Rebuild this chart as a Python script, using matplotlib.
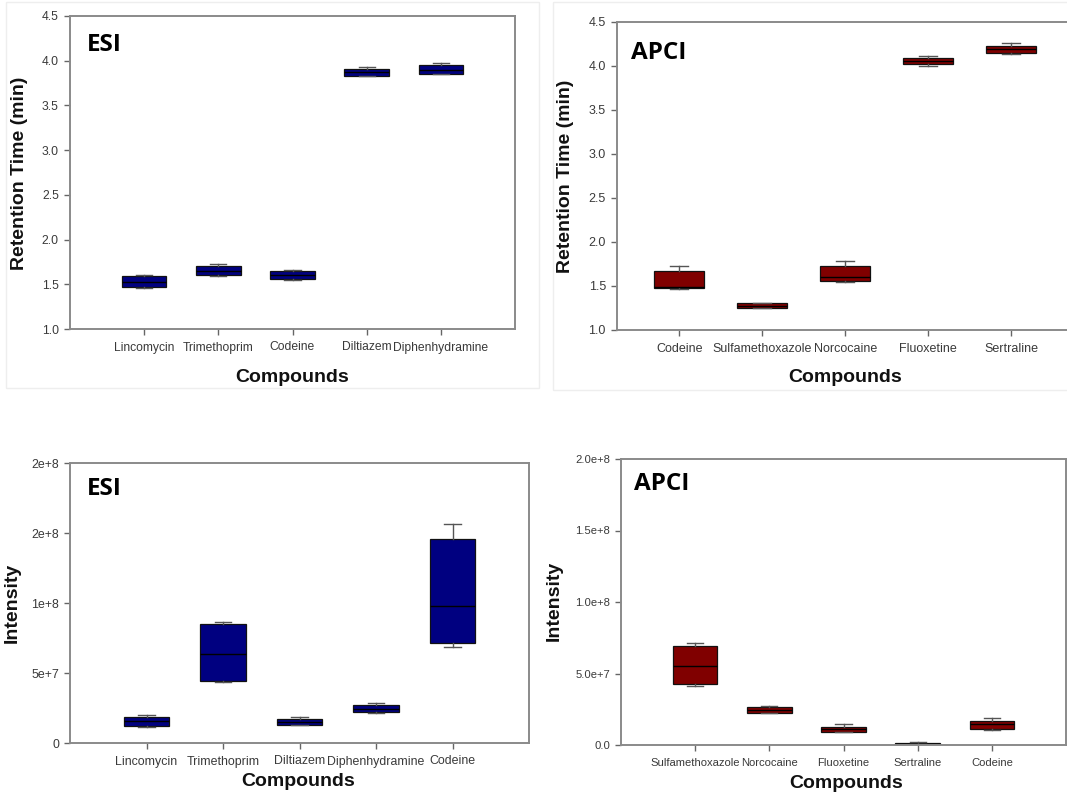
import matplotlib
matplotlib.use("Agg")
import matplotlib.pyplot as plt
from matplotlib.patches import Rectangle

W, H = 1067, 794

# ---------------- data ----------------
esi_rt_compounds = ["Lincomycin", "Trimethoprim", "Codeine", "Diltiazem", "Diphenhydramine"]
esi_rt_whislo = [1.457, 1.590, 1.550, 3.824, 3.847]
esi_rt_q1 = [1.468, 1.602, 1.557, 3.832, 3.854]
esi_rt_med = [1.520, 1.650, 1.600, 3.870, 3.900]
esi_rt_q3 = [1.594, 1.706, 1.647, 3.906, 3.954]
esi_rt_whishi = [1.600, 1.725, 1.661, 3.935, 3.980]

apci_rt_compounds = ["Codeine", "Sulfamethoxazole", "Norcocaine", "Fluoxetine", "Sertraline"]
apci_rt_whislo = [1.466, 1.245, 1.550, 4.003, 4.133]
apci_rt_q1 = [1.474, 1.245, 1.557, 4.019, 4.144]
apci_rt_med = [1.490, 1.270, 1.600, 4.060, 4.190]
apci_rt_q3 = [1.674, 1.303, 1.730, 4.090, 4.230]
apci_rt_whishi = [1.730, 1.303, 1.784, 4.117, 4.258]

esi_int_compounds = ["Lincomycin", "Trimethoprim", "Diltiazem", "Diphenhydramine", "Codeine"]
esi_int_whislo = [1.12e7, 4.38e7, 1.26e7, 2.15e7, 6.86e7]
esi_int_q1 = [1.21e7, 4.45e7, 1.29e7, 2.19e7, 7.17e7]
esi_int_med = [1.55e7, 6.33e7, 1.50e7, 2.45e7, 9.76e7]
esi_int_q3 = [1.88e7, 8.50e7, 1.71e7, 2.71e7, 1.457e8]
esi_int_whishi = [2.00e7, 8.67e7, 1.88e7, 2.83e7, 1.564e8]

apci_int_compounds = ["Sulfamethoxazole", "Norcocaine", "Fluoxetine", "Sertraline", "Codeine"]
apci_int_whislo = [4.15e7, 2.22e7, 0.88e7, 0.05e7, 1.08e7]
apci_int_q1 = [4.27e7, 2.24e7, 0.91e7, 0.07e7, 1.10e7]
apci_int_med = [5.52e7, 2.45e7, 1.10e7, 0.10e7, 1.45e7]
apci_int_q3 = [6.92e7, 2.66e7, 1.28e7, 0.14e7, 1.66e7]
apci_int_whishi = [7.13e7, 2.70e7, 1.47e7, 0.18e7, 1.87e7]

rt_ticks = [1.0, 1.5, 2.0, 2.5, 3.0, 3.5, 4.0, 4.5]
rt_ticklabels = ["1.0", "1.5", "2.0", "2.5", "3.0", "3.5", "4.0", "4.5"]
esi_int_ticks = [0, 5e7, 1e8, 1.5e8, 2e8]
esi_int_ticklabels = ["0", "5e+7", "1e+8", "2e+8", "2e+8"]
apci_int_ticks = [0, 5e7, 1e8, 1.5e8, 2e8]
apci_int_ticklabels = ["0.0", "5.0e+7", "1.0e+8", "1.5e+8", "2.0e+8"]

NAVY = "#000080"
MAROON = "#800000"
SPINE = "#8a8a8a"
TICKTXT = "#3a3a3a"

fig = plt.figure(figsize=(W / 100, H / 100), dpi=100)
fig.patch.set_facecolor("white")

# faint frames around the top panels
fig.add_artist(Rectangle((6 / W, 1 - 388 / H), (539 - 6) / W, 386 / H,
                         transform=fig.transFigure, fill=False,
                         edgecolor="#eeeeee", lw=1))
fig.add_artist(Rectangle((553 / W, 1 - 390 / H), (1070 - 553) / W, 388 / H,
                         transform=fig.transFigure, fill=False,
                         edgecolor="#eeeeee", lw=1))


def make_stats(names, lo, q1, med, q3, hi):
    return [dict(label=n, whislo=a, q1=b, med=c, q3=d, whishi=e)
            for n, a, b, c, d, e in zip(names, lo, q1, med, q3, hi)]


def fx(px):
    return px / W


def fy(py):
    return 1 - py / H


def panel(box, xlim, ylim, yticks, yticklabels, stats, color, names,
          tag, tag_xy, ylabel, ylabel_xy, xlabel_xy, ticksize):
    left, right, top, bottom = box
    ax = fig.add_axes([fx(left), fy(bottom), (right - left) / W, (bottom - top) / H])
    pos = list(range(1, len(names) + 1))
    ax.bxp(stats, positions=pos, widths=0.6, capwidths=0.22, patch_artist=True,
           showfliers=False,
           boxprops=dict(facecolor=color, edgecolor="#111111", linewidth=0.9),
           whiskerprops=dict(color="#555555", linewidth=1.0),
           capprops=dict(color="#555555", linewidth=1.0),
           medianprops=dict(color="black", linewidth=1.0))
    ax.set_xlim(*xlim)
    ax.set_ylim(*ylim)
    ax.set_xticks(pos, names)
    ax.set_yticks(yticks, yticklabels)
    for s in ax.spines.values():
        s.set_color(SPINE)
        s.set_linewidth(1.4)
    ax.tick_params(axis="both", direction="out", length=4, width=1,
                   color="#666666", labelcolor=TICKTXT, labelsize=ticksize)
    ax.tick_params(axis="x", pad=5)
    ax.tick_params(axis="y", pad=4)
    for lab in ax.get_xticklabels() + ax.get_yticklabels():
        lab.set_family("Liberation Sans")
    fig.text(fx(tag_xy[0]), fy(tag_xy[1]), tag, family="Open Sans",
             fontweight="bold", fontsize=17.5, ha="left", va="baseline",
             color="black")
    fig.text(fx(ylabel_xy[0]), fy(ylabel_xy[1]), ylabel, family="Liberation Sans",
             fontweight="bold", fontsize=14, rotation=90, ha="center",
             va="center", color="#111111")
    fig.text(fx(xlabel_xy[0]), fy(xlabel_xy[1]), "Compounds", family="Liberation Sans",
             fontweight="bold", fontsize=14, ha="center", va="center",
             color="#111111")
    return ax


panel((70, 515, 16, 329), (0, 6), (1.0, 4.5), rt_ticks, rt_ticklabels,
      make_stats(esi_rt_compounds, esi_rt_whislo, esi_rt_q1, esi_rt_med, esi_rt_q3, esi_rt_whishi),
      NAVY, esi_rt_compounds, "ESI", (87, 51), "Retention Time (min)", (20, 173), (292, 377),
      8.7)

panel((617, 1094, 22, 330), (0.25, 6), (1.0, 4.5), rt_ticks, rt_ticklabels,
      make_stats(apci_rt_compounds, apci_rt_whislo, apci_rt_q1, apci_rt_med, apci_rt_q3, apci_rt_whishi),
      MAROON, apci_rt_compounds, "APCI", (631, 59), "Retention Time (min)", (566, 176), (845, 378),
      9.0)

panel((70, 529, 463, 743), (0, 6), (0, 2e8), esi_int_ticks, esi_int_ticklabels,
      make_stats(esi_int_compounds, esi_int_whislo, esi_int_q1, esi_int_med, esi_int_q3, esi_int_whishi),
      NAVY, esi_int_compounds, "ESI", (87, 495), "Intensity", (12, 603), (298, 782),
      8.9)

panel((621, 1066, 459, 745), (0, 6), (0, 2e8), apci_int_ticks, apci_int_ticklabels,
      make_stats(apci_int_compounds, apci_int_whislo, apci_int_q1, apci_int_med, apci_int_q3, apci_int_whishi),
      MAROON, apci_int_compounds, "APCI", (634, 490), "Intensity", (554, 601), (846, 783),
      8.1)

fig.savefig("out.png", dpi=100, facecolor="white")
